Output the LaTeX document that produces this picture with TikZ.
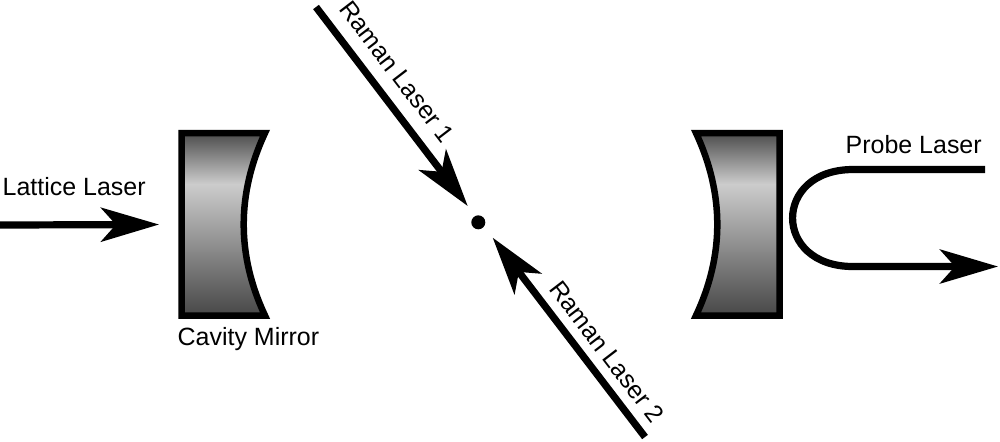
\documentclass[tikz,border=0pt]{standalone}
\usepackage{fontspec}
\setmainfont{Liberation Sans}
\usetikzlibrary{arrows.meta}
\tikzset{>={Stealth[length=0.58cm,width=0.34cm,inset=0.15cm]}}
\pgfdeclareverticalshading{mirrorgrey}{100bp}{color(0bp)=(black!72);color(25bp)=(black!72);color(61bp)=(black!20);color(75bp)=(black!70);color(100bp)=(black!70)}

\begin{document}
\begin{tikzpicture}[x=0.01cm,y=-0.01cm,
		mirror/.style={draw=black, line width=0.065cm, shading=mirrorgrey},
		beam/.style={->, line width=0.072cm},
		lbl/.style={font=\fontsize{7.1}{9}\selectfont, inner sep=0pt}]
	\useasboundingbox (0,0) rectangle (1000,441);
	% mirrors
	\shadedraw[mirror] (181.5,133) -- (265,133) .. controls (236.6,194) and (236.6,255) .. (265,315.5) -- (181.5,315.5) -- cycle;
	\shadedraw[mirror] (779.5,133) -- (696,133) .. controls (724.4,194) and (724.4,255) .. (696,315.5) -- (779.5,315.5) -- cycle;
	% atom
	\node[circle, fill=black, inner sep=0pt, minimum size=0.14cm] (atom) at (478.3,222.3) {};
	% beam ends
	\coordinate (latticeA) at (0,225);
	\coordinate (latticeB) at (159,224.5);
	\coordinate (ramanA) at (316,7);
	\coordinate (ramanB) at (467.7,206);
	\coordinate (ramanC) at (645,437);
	\coordinate (ramanD) at (492.7,237.7);
	\coordinate (probeA) at (985,169.5);
	\coordinate (probeB) at (853,169.5);
	\coordinate (probeC) at (853,266.5);
	\coordinate (probeD) at (998,266.5);
	\draw[beam] (latticeA) -- (latticeB);
	\draw[beam] (ramanA) -- (ramanB);
	\draw[beam] (ramanC) -- (ramanD);
	\draw[beam] (probeA) -- (probeB) to[out=180,in=180,looseness=2.13] (probeC) -- (probeD);
	% labels
	\node[lbl, anchor=base west] (lattice) at (2,195) {Lattice Laser};
	\node[lbl, anchor=base west] (cavity) at (177,345) {Cavity Mirror};
	\node[lbl, anchor=base west] (probe) at (845,153) {Probe Laser};
	\node[lbl, rotate=-52.5] (raman1) at (397,72) {Raman Laser 1};
	\node[lbl, rotate=-52.5] (raman2) at (607,352) {Raman Laser 2};
\end{tikzpicture}
\end{document}
